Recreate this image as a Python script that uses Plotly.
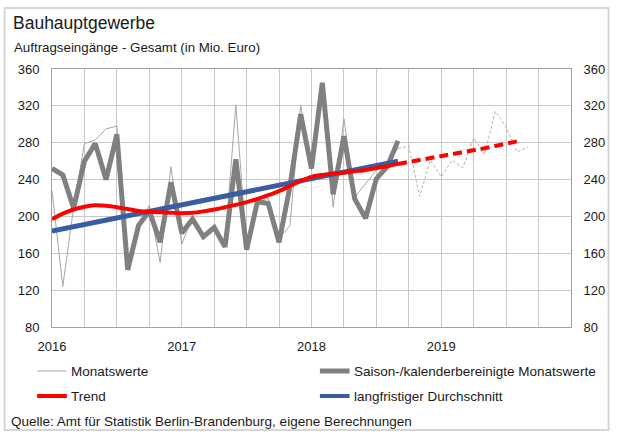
import plotly.graph_objects as go

# ---- data (month index 0 = Jan 2016) ----
year_labels = ["2016", "2017", "2018", "2019"]

monatswerte = [228, 124, 210, 279, 283, 295, 298, 145, 190, 212, 150, 254,
               170, 200, 178, 188, 170, 321, 168, 214, 220, 176, 190, 321,
               250, 342, 210, 306, 221, 236, 250, 258, 274]
monatswerte_prog = [274, 276, 222, 261, 243, 261, 253, 285, 267, 314, 297, 270, 275]

saison = [252, 245, 209, 260, 279, 240, 289, 142, 190, 206, 172, 237,
          182, 197, 178, 188, 167, 262, 164, 216, 214, 172, 232, 311,
          252, 345, 224, 287, 219, 198, 241, 254, 282]

trend = [197, 203, 207.5, 210.5, 212, 211.5, 210, 208, 206, 205, 204.5, 204,
         203.5, 204, 205.5, 207.5, 210, 212.5, 215.5, 219, 223, 227.5, 233, 238.5,
         243, 245, 246.5, 247.5, 249, 250.5, 252.5, 254.5, 257]
trend_prog = [257, 259, 261, 263, 265, 267, 269, 271.5, 274, 276.5, 279, 281.5]

durchschnitt_x = [0, 32]
durchschnitt = [184, 260]

x_hist = list(range(len(saison)))
x_prog = list(range(32, 32 + len(monatswerte_prog)))
x_trend_prog = list(range(32, 32 + len(trend_prog)))

GREY_THIN = "#a6a6a6"
GREY_THICK = "#808080"
RED = "#ff0000"
BLUE = "#3a5da2"

fig = go.Figure()
fig.add_trace(go.Scatter(x=x_hist, y=monatswerte, mode="lines",
                         line=dict(color=GREY_THIN, width=1), name="Monatswerte"))
fig.add_trace(go.Scatter(x=x_prog, y=monatswerte_prog, mode="lines",
                         line=dict(color="#b4b4b4", width=1, dash="3px,2px"), showlegend=False))
fig.add_trace(go.Scatter(x=x_hist, y=saison, mode="lines",
                         line=dict(color=GREY_THICK, width=5), name="Saison-/kalenderbereinigte Monatswerte"))
fig.add_trace(go.Scatter(x=durchschnitt_x, y=durchschnitt, mode="lines",
                         line=dict(color=BLUE, width=5), name="langfristiger Durchschnitt"))
fig.add_trace(go.Scatter(x=x_hist, y=trend, mode="lines",
                         line=dict(color=RED, width=4, shape="spline", smoothing=0.6), name="Trend"))
fig.add_trace(go.Scatter(x=x_trend_prog, y=trend_prog, mode="lines",
                         line=dict(color=RED, width=4, dash="9px,5px"), showlegend=False))
# invisible trace for right axis
fig.add_trace(go.Scatter(x=[0], y=[80], yaxis="y2", mode="markers",
                         marker=dict(opacity=0), showlegend=False, hoverinfo="skip"))

tickvals = list(range(0, 49, 3))
ticktext = [year_labels[v // 12] if v % 12 == 0 and v // 12 < len(year_labels) else "" for v in tickvals]

FONT = "Liberation Sans, Arial, sans-serif"
L, R, T, B = 52, 577, 69, 327
W, H = 617, 432


def px(x):
    return (x - L) / (R - L)


def py(y):
    return (B - y) / (B - T)


yaxis_common = dict(range=[80, 360], tickvals=list(range(80, 361, 40)),
                    showgrid=True, gridcolor="#c8c8c8", gridwidth=1,
                    zeroline=False, showline=True, linecolor="#a0a0a0", linewidth=1,
                    ticks="outside", ticklen=0, ticklabelstandoff=9,
                    tickfont=dict(family=FONT, size=13, color="#1a1a1a"))

fig.update_layout(
    width=W, height=H,
    margin=dict(l=L, r=W - R, t=T, b=H - B),
    paper_bgcolor="white", plot_bgcolor="white",
    showlegend=False,
    font=dict(family=FONT, size=13, color="#1a1a1a"),
    xaxis=dict(range=[0, 48], tickvals=tickvals, ticktext=ticktext,
               showgrid=True, gridcolor="#c8c8c8", gridwidth=1,
               zeroline=False, showline=True, linecolor="#a0a0a0", linewidth=1,
               mirror=True, ticks="outside", ticklen=0, ticklabelstandoff=7,
               tickfont=dict(family=FONT, size=13, color="#1a1a1a")),
    yaxis=dict(**yaxis_common, mirror=True),
    yaxis2=dict(**yaxis_common, overlaying="y", side="right"),
)

ann = []
ann.append(dict(text="Bauhauptgewerbe", x=px(11), y=py(23), xref="paper", yref="paper",
                xanchor="left", yanchor="middle", showarrow=False,
                font=dict(family=FONT, size=17.5, color="#1a1a1a")))
ann.append(dict(text="Auftragseingänge - Gesamt (in Mio. Euro)", x=px(12), y=py(47),
                xref="paper", yref="paper", xanchor="left", yanchor="middle", showarrow=False,
                font=dict(family=FONT, size=13.3, color="#1a1a1a")))

legend_items = [
    (37, 67, 371, GREY_THIN, 1, "Monatswerte"),
    (323, 353, 371, GREY_THICK, 5, "Saison-/kalenderbereinigte Monatswerte"),
    (37, 67, 396, RED, 4, "Trend"),
    (323, 353, 396, BLUE, 4, "langfristiger Durchschnitt"),
]
shapes = []
for x0, x1, yy, col, w, label in legend_items:
    shapes.append(dict(type="line", xref="paper", yref="paper",
                       x0=px(x0), x1=px(x1), y0=py(yy), y1=py(yy),
                       line=dict(color=col, width=w)))
    ann.append(dict(text=label, x=px(x1 + 2), y=py(yy), xref="paper", yref="paper",
                    xanchor="left", yanchor="middle", showarrow=False,
                    font=dict(family=FONT, size=13.5, color="#1a1a1a")))

ann.append(dict(text="Quelle: Amt für Statistik Berlin-Brandenburg, eigene Berechnungen",
                x=px(9), y=py(421), xref="paper", yref="paper", xanchor="left", yanchor="middle",
                showarrow=False, font=dict(family=FONT, size=13.5, color="#1a1a1a")))

shapes.append(dict(type="rect", xref="paper", yref="paper",
                   x0=px(4), x1=px(615), y0=py(8), y1=py(430),
                   line=dict(color="#d6d6d6", width=2), layer="below"))

fig.update_layout(annotations=ann, shapes=shapes)
fig.write_html("out.html",
               config={"displayModeBar": False},
               post_script="document.body.style.margin='0';document.body.style.padding='0';"
                           "document.documentElement.style.overflow='hidden';")
